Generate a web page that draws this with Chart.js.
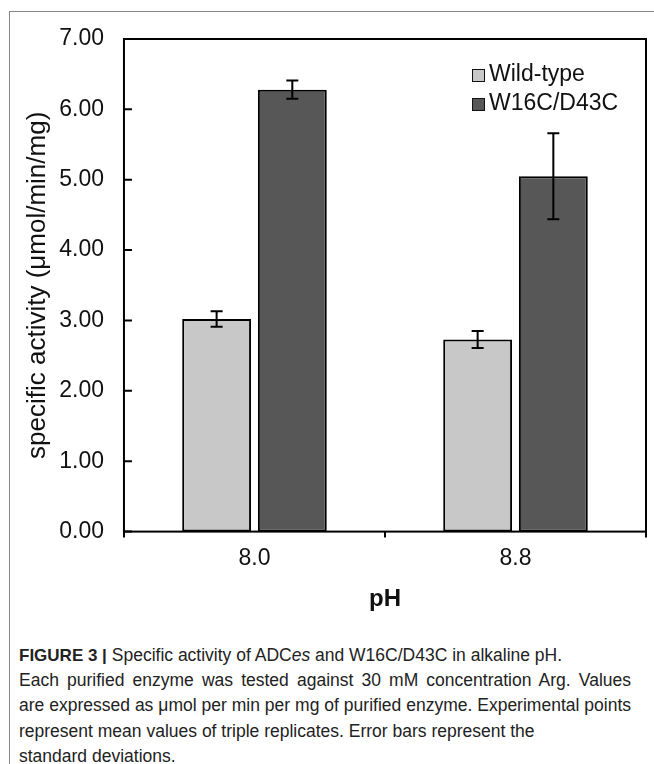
<!DOCTYPE html>
<html>
<head>
<meta charset="utf-8">
<script src="https://cdn.jsdelivr.net/npm/chart.js@4.4.1/dist/chart.umd.min.js"></script>
<style>
  html, body { margin: 0; padding: 0; background: #fff; }
  body { width: 654px; height: 764px; position: relative; overflow: hidden; font-family: 'Liberation Sans', Arial, sans-serif; }
  #frame { position: absolute; left: 9px; top: 11px; right: -2px; bottom: -2px; border-top: 1px solid #888; border-left: 1px solid #888; }
  #chart { position: absolute; left: 0; top: 0; }
  #legend { position: absolute; left: 472px; top: 59px; font-size: 23px; color: #111; }
  #legend .item { height: 28.5px; line-height: 28.5px; white-space: nowrap; }
  #legend .box { display: inline-block; width: 11px; height: 11px; border: 1.5px solid #111; margin-right: 4px; vertical-align: -1px; }
  #caption { position: absolute; left: 19px; top: 643px; width: 612px; font-size: 17.5px; color: #222; }
  #caption .ln { height: 25.2px; line-height: 25.2px; white-space: nowrap; }
  #caption .j { text-align: justify; text-align-last: justify; }
  #caption b { font-size: 17px; }
</style>
</head>
<body>
<div id="frame"></div>
<canvas id="chart" width="654" height="630"></canvas>
<div id="legend"></div>
<div id="caption">
  <div class="ln"><b>FIGURE 3 |</b> Specific activity of ADC<i>es</i> and W16C/D43C in alkaline pH.</div>
  <div class="ln j">Each purified enzyme was tested against 30 mM concentration Arg. Values</div>
  <div class="ln j">are expressed as μmol per min per mg of purified enzyme. Experimental points</div>
  <div class="ln">represent mean values of triple replicates. Error bars represent the</div>
  <div class="ln">standard deviations.</div>
</div>
<script>
// data
const phLabels = ['8.0', '8.8'];
const seriesNames = ['Wild-type', 'W16C/D43C'];
const wildType = [3.02, 2.73];
const wildTypeSd = [0.11, 0.12];
const mutant = [6.28, 5.05];
const mutantSd = [0.13, 0.61];
const yTicks = [0, 1, 2, 3, 4, 5, 6, 7];

const fills = ['#c8c8c8', '#575757'];

Chart.defaults.font.family = "'Liberation Sans', Arial, sans-serif";
Chart.defaults.color = '#111';

// plot frame, inward y ticks and the error bars
const extras = {
  id: 'extras',
  afterDatasetsDraw(chart) {
    const ctx = chart.ctx;
    const y = chart.scales.y;
    ctx.save();
    ctx.strokeStyle = '#000';
    ctx.lineWidth = 2;
    chart.data.datasets.forEach((ds, i) => {
      chart.getDatasetMeta(i).data.forEach((bar, j) => {
        const v = ds.data[j], e = ds.sd[j];
        const top = y.getPixelForValue(v + e);
        const bot = y.getPixelForValue(v - e);
        const x = bar.x, w = 6;
        ctx.beginPath();
        ctx.moveTo(x, top); ctx.lineTo(x, bot);
        ctx.moveTo(x - w, top); ctx.lineTo(x + w, top);
        ctx.moveTo(x - w, bot); ctx.lineTo(x + w, bot);
        ctx.stroke();
      });
    });
    ctx.restore();
  },
  afterDraw(chart) {
    const ctx = chart.ctx;
    const a = chart.chartArea;
    const y = chart.scales.y;
    ctx.save();
    ctx.strokeStyle = '#000';
    ctx.lineWidth = 2;
    ctx.strokeRect(a.left, a.top, a.right - a.left, a.bottom - a.top);
    ctx.beginPath();
    y.ticks.forEach(t => {
      const p = y.getPixelForValue(t.value);
      ctx.moveTo(a.left, p);
      ctx.lineTo(a.left + 8, p);
    });
    ctx.stroke();
    ctx.restore();
  }
};

new Chart(document.getElementById('chart'), {
  type: 'bar',
  data: {
    labels: phLabels,
    datasets: [
      { label: seriesNames[0], data: wildType, sd: wildTypeSd, backgroundColor: fills[0] },
      { label: seriesNames[1], data: mutant, sd: mutantSd, backgroundColor: fills[1] }
    ]
  },
  options: {
    responsive: false,
    animation: false,
    devicePixelRatio: 1,
    layout: { padding: { left: 1, right: 8, top: 39, bottom: 12 } },
    datasets: {
      bar: {
        categoryPercentage: 0.58,
        barPercentage: 0.91,
        borderColor: '#000',
        borderWidth: 2,
        borderSkipped: false
      }
    },
    plugins: {
      legend: { display: false },
      tooltip: { enabled: false }
    },
    scales: {
      x: {
        grid: { offset: true, drawOnChartArea: false, drawTicks: true, tickLength: 6, color: '#000', lineWidth: 2 },
        border: { display: false },
        ticks: { font: { size: 23 }, padding: 7, color: '#111' },
        title: { display: true, text: 'pH', font: { size: 24, weight: 'bold' }, padding: { top: 6, bottom: 4 }, color: '#111' }
      },
      y: {
        min: 0,
        max: 7,
        afterBuildTicks: s => { s.ticks = yTicks.map(v => ({ value: v })); },
        grid: { display: false, drawTicks: false },
        border: { display: false },
        ticks: { font: { size: 23 }, padding: 20, color: '#111', callback: v => v.toFixed(2) },
        title: { display: true, text: 'specific activity (μmol/min/mg)', font: { size: 26 }, padding: { top: 21, bottom: -14 }, color: '#111' }
      }
    }
  },
  plugins: [extras]
});

// legend drawn as html text, same colours as the bars
document.getElementById('legend').innerHTML = seriesNames.map((n, i) =>
  '<div class="item"><span class="box" style="background:' + fills[i] + '"></span>' + n + '</div>'
).join('');
</script>
</body>
</html>
